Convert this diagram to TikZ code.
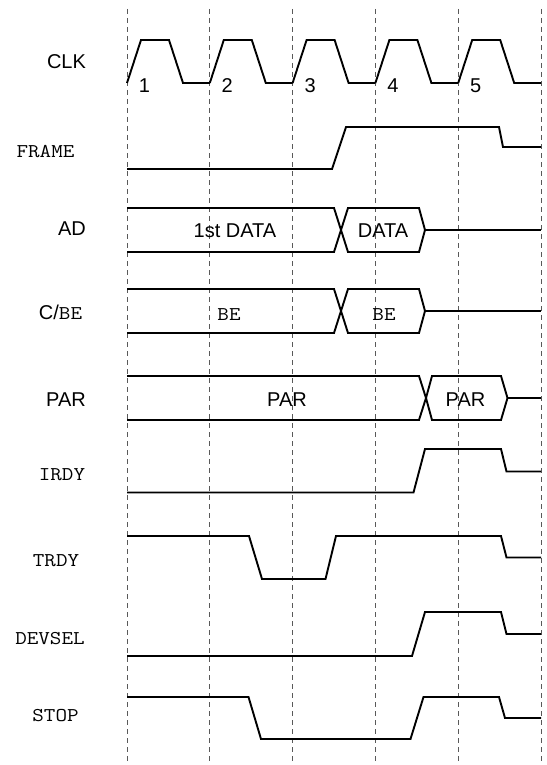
\documentclass[tikz,border=0pt]{standalone}
\usepackage{fontspec}
\setmainfont{Liberation Sans}
\setmonofont[FakeStretch=1.15]{Latin Modern Mono}
\usetikzlibrary{calc}

\begin{document}
\begin{tikzpicture}[x=1pt, y=-1pt,
    sig/.style={black, line width=1.9pt},
    tick/.style={gray!70!black, line width=1pt, dash pattern=on 5pt off 4pt},
    txt/.style={font=\fontsize{20}{24}\selectfont, inner sep=0pt},
    mono/.style={font=\fontsize{19.5}{23}\selectfont\ttfamily, inner sep=0pt}]
  \useasboundingbox (0,0) rectangle (546,765);

  % clock edges
  \foreach \t in {0,...,5}
    \draw[tick] ({127+82.8*\t},9) -- ({127+82.8*\t},765);

  % signal names
  \node[txt]  (clk)    at (66.5,61.5) {CLK};
  \node[mono] (frame)  at (45.5,152)  {FRAME};
  \node[txt]  (ad)     at (72,228.5)  {AD};
  \node[txt]  (cbe)    at (60.5,312)  {C/{\fontsize{19.5}{23}\selectfont\ttfamily BE}};
  \node[txt]  (par)    at (66,400)    {PAR};
  \node[mono] (irdy)   at (62,475)    {IRDY};
  \node[mono] (trdy)   at (56,561)    {TRDY};
  \node[mono] (devsel) at (50,639)    {DEVSEL};
  \node[mono] (stop)   at (55.5,715.5) {STOP};

  % CLK
  \foreach \t [count=\n] in {0,...,4} {
    \draw[sig] ({127+82.8*\t},83) -- ++(14,-43) -- ++(28,0) -- ++(14,43) -- ++(26.8,0);
    \node[txt] (cyc\n) at ({144.5+82.8*\t},85.5) {\n};
  }

  % FRAME
  \draw[sig] (127,169) -- (332,169) -- (346,127) -- (499,127) -- (503,147) -- (541,147);

  % AD and C/BE
  \foreach \hi/\lo in {208/252, 289/333} {
    \draw[sig] (127,\hi) -- (334,\hi) -- (341,{(\hi+\lo)/2}) -- (334,\lo) -- (127,\lo);
    \draw[sig] (341,{(\hi+\lo)/2}) -- (348,\hi) -- (419,\hi) -- (425,{(\hi+\lo)/2})
      -- (419,\lo) -- (348,\lo) -- cycle;
    \draw[sig] (425,{(\hi+\lo)/2}) -- (541,{(\hi+\lo)/2});
  }
  \node[txt]  (data1) at (235,231) {1st DATA};
  \node[txt]  (data2) at (383,231) {DATA};
  \node[mono] (be1)   at (229,315) {BE};
  \node[mono] (be2)   at (384,315) {BE};

  % PAR
  \draw[sig] (127,376) -- (419,376) -- (426,398) -- (419,420) -- (127,420);
  \draw[sig] (426,398) -- (432,376) -- (501,376) -- (507.5,398) -- (501,420) -- (432,420) -- cycle;
  \draw[sig] (507.5,398) -- (541,398);
  \node[txt] (par1) at (287,400)   {PAR};
  \node[txt] (par2) at (465.5,400) {PAR};

  % IRDY
  \draw[sig] (127,492.5) -- (413.5,492.5) -- (425,449) -- (501,449) -- (506.5,471.5) -- (541,471.5);

  % TRDY
  \draw[sig] (127,536) -- (249,536) -- (262,579) -- (325.5,579) -- (336,536) -- (501,536)
    -- (506.5,557.5) -- (541,557.5);

  % DEVSEL
  \draw[sig] (127,656) -- (412,656) -- (425,612) -- (501,612) -- (506.5,634) -- (541,634);

  % STOP
  \draw[sig] (127,697) -- (248.5,697) -- (261,739) -- (410.5,739) -- (423.5,697) -- (499,697)
    -- (505,718) -- (541,718);
\end{tikzpicture}
\end{document}
